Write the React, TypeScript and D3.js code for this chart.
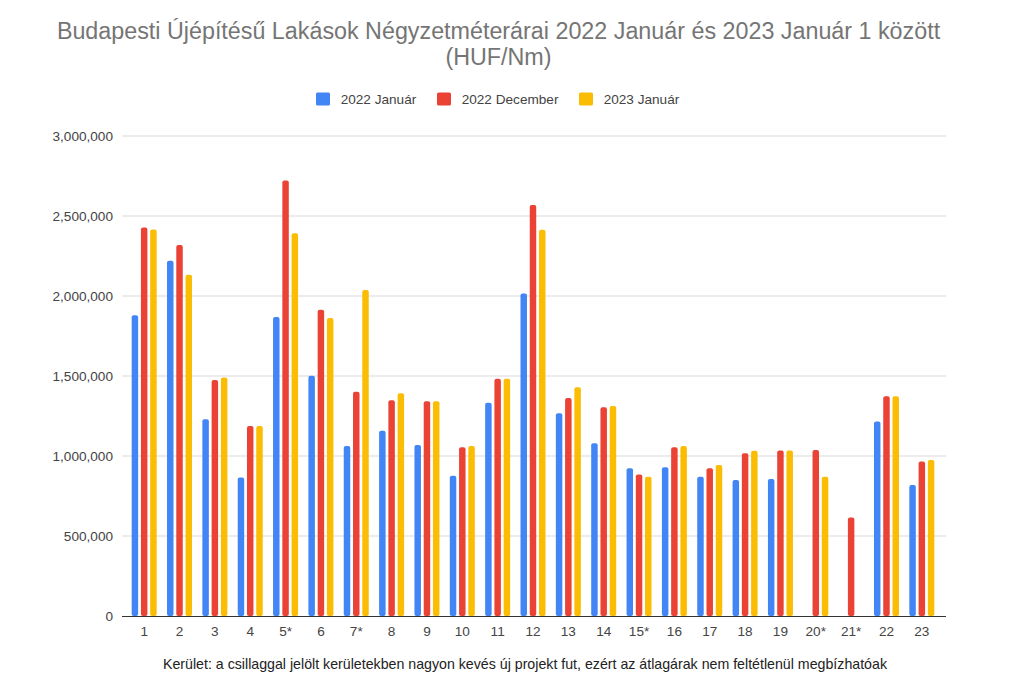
import React from "react";
import * as d3 from "d3";

const categories = ["1","2","3","4","5*","6","7*","8","9","10","11","12","13","14","15*","16","17","18","19","20*","21*","22","23"];
const seriesNames = ["2022 Január", "2022 December", "2023 Január"];
const jan2022: (number | null)[] = [1880000,2220000,1230000,865000,1868000,1502000,1062000,1158000,1069000,877000,1333000,2015000,1267000,1079000,923000,929000,871000,850000,856000,null,null,1215000,819000];
const dec2022: (number | null)[] = [2428000,2318000,1475000,1187000,2722000,1914000,1402000,1348000,1342000,1054000,1483000,2568000,1362000,1304000,885000,1054000,923000,1017000,1035000,1037000,615000,1373000,965000];
const jan2023: (number | null)[] = [2416000,2133000,1490000,1187000,2392000,1862000,2038000,1392000,1342000,1062000,1483000,2414000,1429000,1312000,871000,1062000,944000,1033000,1035000,871000,null,1373000,975000];
const yTicks = [0, 500000, 1000000, 1500000, 2000000, 2500000, 3000000];
const colors = ["#4285f4", "#ea4335", "#fbbc04"];
const title1 = "Budapesti Újépítésű Lakások Négyzetméterárai 2022 Január és 2023 Január 1 között";
const title2 = "(HUF/Nm)";
const footer = "Kerület: a csillaggal jelölt kerületekben nagyon kevés új projekt fut, ezért az átlagárak nem feltétlenül megbízhatóak";

export default function App() {
  const W = 1024, H = 691;
  const series = [jan2022, dec2022, jan2023];
  const x = d3.scaleBand<string>().domain(categories).range([126.5, 939.5]);
  const inner = d3.scaleBand<number>().domain([0, 1, 2]).range([-12.5, 12.5]).paddingInner(0.3);
  const y = d3.scaleLinear().domain([0, 3000000]).range([616, 136]);
  const fmt = d3.format(",");
  const font = "'Liberation Sans', Arial, sans-serif";
  const legendX = [316, 437, 579];
  const fs = 13.6;
  return (
    <svg width={W} height={H} style={{ position: "absolute", left: 0, top: 0, background: "#fff" }} fontFamily={font}>
      <rect width={W} height={H} fill="#fff" />
      <text x={498.5} y={38.5} textAnchor="middle" fontSize={23.3} fill="#757575">{title1}</text>
      <text x={498.5} y={64.5} textAnchor="middle" fontSize={23.3} fill="#757575">{title2}</text>
      {seriesNames.map((s, i) => (
        <g key={s}>
          <rect x={legendX[i]} y={92.5} width={14} height={13} rx={1.5} fill={colors[i]} />
          <text x={legendX[i] + 24.7} y={104} fontSize={fs} fill="#444">{s}</text>
        </g>
      ))}
      {yTicks.map(t => (
        <g key={t}>
          {t > 0 && <line x1={122} x2={946} y1={y(t)} y2={y(t)} stroke="#d9d9d9" strokeWidth={1} />}
          <text x={113} y={y(t) + 5} textAnchor="end" fontSize={fs} fill="#444">{fmt(t)}</text>
        </g>
      ))}
      {categories.map((c, ci) => (
        <g key={c}>
          {series.map((s, si) => {
            const v = s[ci];
            if (v == null) return null;
            const bx = (x(c) as number) + x.bandwidth() / 2 + (inner(si) as number);
            return <rect key={si} x={bx} y={y(v)} width={inner.bandwidth()} height={616 - y(v)} rx={2} fill={colors[si]} />;
          })}
          <text x={(x(c) as number) + x.bandwidth() / 2} y={636} textAnchor="middle" fontSize={fs} fill="#444">{c}</text>
        </g>
      ))}
      <line x1={122} x2={946} y1={616.5} y2={616.5} stroke="#333" strokeWidth={1} />
      <text x={525} y={669} textAnchor="middle" fontSize={14.2} fill="#222">{footer}</text>
    </svg>
  );
}
